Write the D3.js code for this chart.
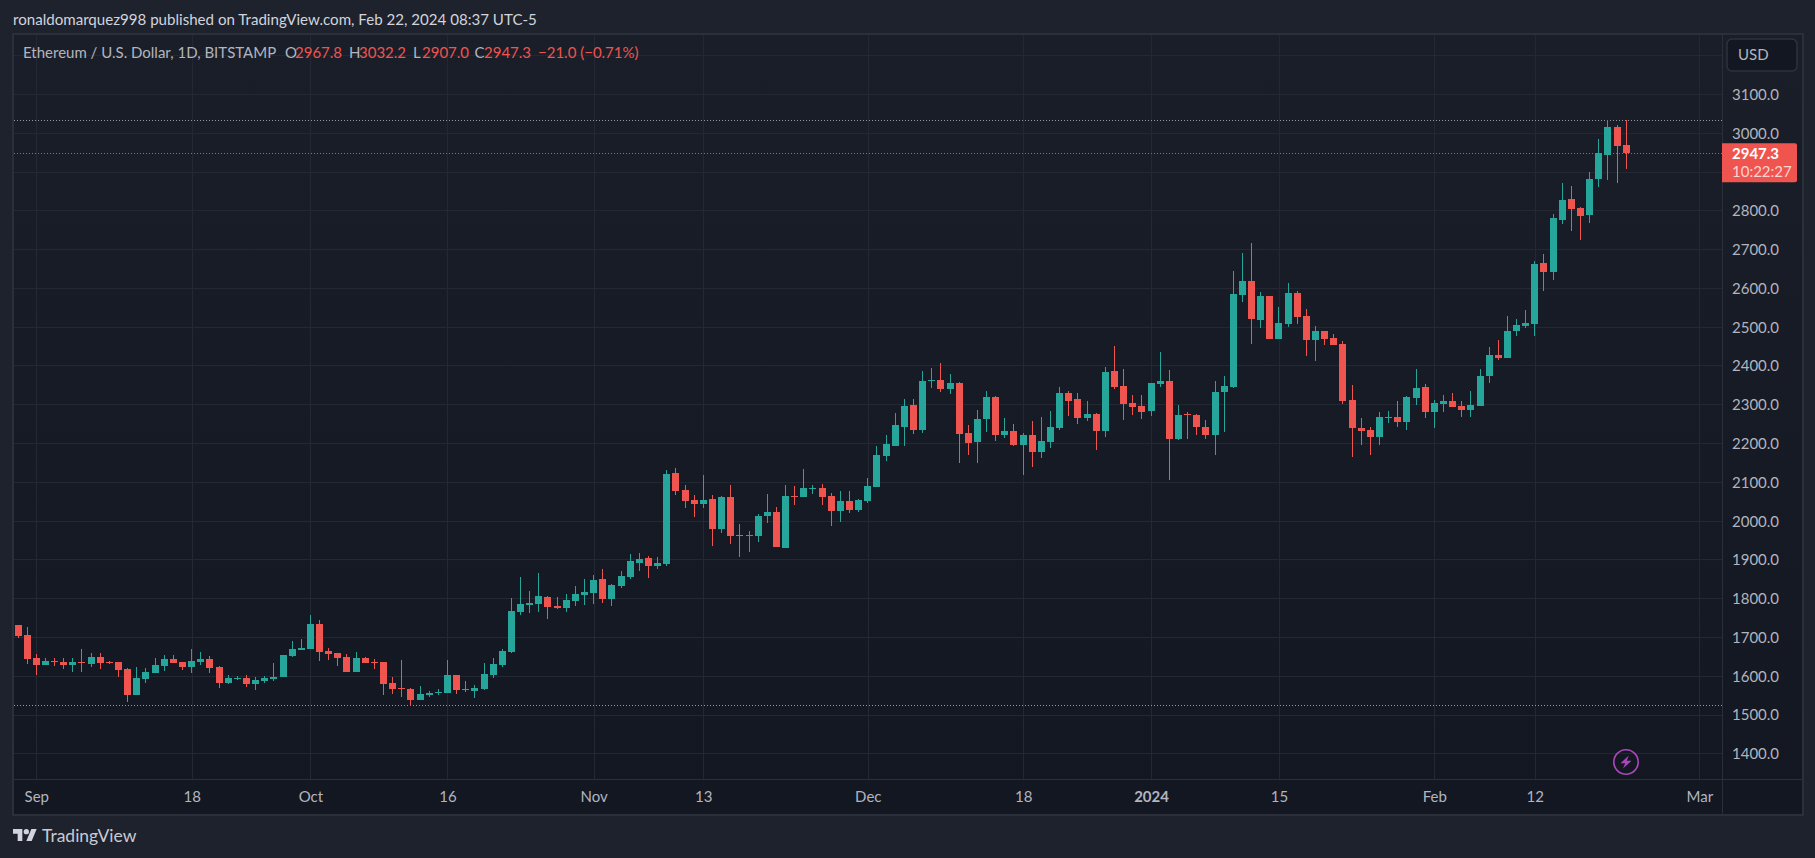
<!DOCTYPE html>
<html>
<head>
<meta charset="utf-8">
<script src="https://cdn.jsdelivr.net/npm/d3@7"></script>
<style>
  html, body { margin: 0; padding: 0; background: #1e222d; overflow: hidden; }
  text { font-family: Lato, Roboto, "Liberation Sans", sans-serif; }
</style>
</head>
<body>
<div id="chart"></div>
<script>
// ETH/USD daily, Aug 30 2023 -> Feb 22 2024, one row per month
var opens = [1731,1705,
  1646,1628,1638,1635,1628,1635,1630,1648,1635,1635,1617,1550,1591,1607,1625,1643,1635,1622,1635,1643,1622,1581,1591,1594,1578,1586,1591,1597,1651,1666,
  1669,1734,1664,1659,1648,1609,1646,1635,1635,1581,1568,1566,1537,1550,1555,1555,1603,1567,1561,1567,1603,1628,1662,1765,1783,1786,1804,1781,1775,1793,1809,
  1814,1850,1799,1832,1855,1891,1904,1884,1889,2123,2080,2054,2044,2056,1979,2062,1964,1961,1961,2013,2023,1930,2064,2062,2082,2085,2064,2026,2051,2028,
  2051,2087,2166,2192,2241,2298,2233,2360,2362,2339,2354,2226,2202,2262,2318,2221,2231,2195,2221,2177,2203,2239,2329,2313,2264,2275,2231,2385,2347,2303,2295,
  2282,2352,2360,2210,2275,2272,2242,2221,2332,2345,2582,2618,2518,2580,2469,2508,2587,2528,2466,2490,2472,2456,2312,2240,2234,2216,2265,2268,2255,2317,2345,
  2281,2301,2309,2296,2286,2296,2373,2427,2419,2488,2501,2506,2664,2640,2774,2828,2805,2787,2880,2944,3016,2967.8];
var highs = [1731,1726,
  1656,1645,1647,1645,1647,1668,1658,1658,1639,1635,1620,1622,1619,1645,1653,1653,1635,1668,1661,1651,1625,1602,1599,1602,1597,1599,1633,1654,1690,1694,
  1757,1743,1672,1659,1656,1661,1648,1643,1635,1597,1641,1568,1573,1560,1565,1641,1603,1587,1577,1634,1646,1670,1801,1855,1819,1866,1806,1804,1812,1832,1850,
  1860,1876,1837,1871,1915,1917,1909,1907,2131,2136,2093,2067,2118,2067,2064,2093,1992,1974,2018,2069,2036,2093,2090,2134,2093,2095,2072,2077,2077,2056,
  2111,2192,2220,2277,2313,2313,2385,2393,2406,2378,2357,2246,2285,2334,2321,2265,2249,2226,2257,2267,2282,2344,2334,2329,2308,2277,2396,2450,2391,2324,2324,
  2355,2434,2388,2298,2280,2275,2259,2361,2374,2644,2691,2716,2590,2580,2551,2613,2593,2546,2502,2490,2482,2464,2350,2265,2242,2281,2283,2309,2322,2392,2353,
  2312,2325,2330,2309,2335,2392,2447,2465,2527,2519,2542,2669,2687,2790,2870,2862,2808,2898,2985,3032.5,3019,3032.2];
var lows = [1698,1631,
  1602,1628,1625,1617,1609,1609,1622,1617,1631,1597,1532,1550,1581,1607,1612,1633,1615,1607,1628,1607,1568,1578,1589,1571,1563,1581,1586,1597,1648,1666,
  1669,1638,1641,1625,1609,1609,1633,1617,1550,1553,1545,1522,1537,1545,1550,1555,1554,1559,1543,1564,1595,1623,1659,1757,1763,1765,1747,1773,1765,1781,1783,
  1786,1788,1781,1827,1850,1871,1853,1876,1884,2067,2033,2010,2033,1935,1969,1940,1907,1920,1946,1995,1933,1930,2041,2062,2069,2041,1987,1997,2020,2023,
  2046,2087,2153,2192,2192,2223,2226,2342,2331,2326,2148,2169,2148,2228,2205,2213,2192,2118,2139,2162,2187,2234,2270,2249,2257,2182,2215,2339,2259,2272,2262,
  2269,2344,2104,2208,2210,2221,2210,2170,2229,2343,2564,2456,2497,2469,2469,2500,2508,2425,2412,2453,2453,2301,2165,2196,2170,2196,2252,2242,2234,2299,2265,
  2240,2281,2294,2268,2268,2296,2354,2414,2419,2476,2496,2476,2591,2620,2764,2748,2723,2767,2859,2877,2870,2907];
var closes = [1703,1643,
  1628,1638,1635,1628,1635,1633,1648,1633,1634,1615,1550,1594,1609,1628,1643,1633,1622,1638,1643,1620,1581,1594,1594,1578,1589,1594,1597,1653,1669,1672,
  1734,1661,1656,1646,1609,1646,1633,1633,1578,1566,1566,1537,1553,1555,1558,1603,1564,1564,1569,1605,1631,1665,1768,1786,1788,1806,1778,1775,1796,1812,1817,
  1848,1799,1835,1858,1897,1902,1884,1891,2121,2077,2051,2044,2054,1979,2062,1961,1961,1964,2013,2023,1933,2064,2062,2085,2085,2062,2026,2051,2028,2054,
  2090,2169,2197,2246,2295,2233,2360,2362,2339,2354,2223,2200,2262,2318,2221,2231,2195,2221,2177,2205,2241,2329,2308,2264,2275,2231,2383,2344,2300,2293,2280,
  2355,2360,2210,2272,2272,2241,2221,2332,2347,2585,2618,2520,2580,2469,2510,2587,2526,2466,2490,2469,2453,2309,2240,2232,2216,2268,2268,2255,2319,2343,2281,
  2304,2309,2294,2286,2299,2374,2427,2419,2488,2504,2509,2661,2640,2779,2826,2803,2785,2882,2947,3016,2967,2947.3];

var priceTicks = [1400,1500,1600,1700,1800,1900,2000,2100,2200,2300,2400,2500,2600,2700,2800,2900,3000,3100,3200];
// these two sit behind the USD button and the price tag in the original
var hiddenPriceLabels = [2900,3200];
var timeTicks = ["2023-09-01","2023-09-18","2023-10-01","2023-10-16","2023-11-01","2023-11-13","2023-12-01","2023-12-18","2024-01-01","2024-01-15","2024-02-01","2024-02-12","2024-03-01"];
var timeLabels = ["Sep","18","Oct","16","Nov","13","Dec","18","2024","15","Feb","12","Mar"];

var days = d3.utcDay.range(new Date("2023-08-30"), new Date("2024-02-23"));
var candles = days.map(function(d, i) {
  return { date: d, o: opens[i], h: highs[i], l: lows[i], c: closes[i] };
});
var last = candles[candles.length - 1];

var svgWidth = 1815;
var svgHeight = 858;
var left = 14, right = 1722, top_ = 35, axisTop = 779, bottom = 814, frameRight = 1802;

var upColor = "#26a69a";
var downColor = "#f0544f";
var gridColor = "#242833";
var borderColor = "#2b2f3a";
var axisText = "#b2b5be";
var fontSize = 15;

var svg = d3.select("#chart").append("svg")
  .attr("width", svgWidth)
  .attr("height", svgHeight)
  .style("display", "block");

var defs = svg.append("defs");
var grad = defs.append("linearGradient").attr("id", "paneBg").attr("x1", 0).attr("y1", 0).attr("x2", 0).attr("y2", 1);
grad.append("stop").attr("offset", "0%").attr("stop-color", "#1a1e29");
grad.append("stop").attr("offset", "100%").attr("stop-color", "#131722");
defs.append("clipPath").attr("id", "pane").append("rect")
  .attr("x", left).attr("y", top_).attr("width", right - left).attr("height", axisTop - top_);

// frame
svg.append("rect").attr("x", 0).attr("y", 0).attr("width", svgWidth).attr("height", svgHeight).attr("fill", "#1e222d");
svg.append("rect").attr("x", left).attr("y", top_).attr("width", frameRight - left).attr("height", bottom - top_).attr("fill", "url(#paneBg)");
svg.append("rect").attr("x", left - 1).attr("y", top_ - 1).attr("width", frameRight - left + 2).attr("height", bottom - top_ + 2)
  .attr("fill", "none").attr("stroke", borderColor).attr("stroke-width", 2);

var xScale = d3.scaleUtc()
  .domain([new Date("2023-09-01"), new Date("2024-03-01")])
  .range([36.3, 1699.3]);
var yScale = d3.scaleLinear()
  .domain([1400, 3100])
  .range([753.3, 94]);

var tickDates = timeTicks.map(function(s) { return new Date(s); });

// price axis, its ticks double as the horizontal grid
var yAxis = d3.axisRight(yScale)
  .tickValues(priceTicks)
  .tickSizeInner(-(right - left))
  .tickSizeOuter(0)
  .tickPadding(10)
  .tickFormat(function(d) { return hiddenPriceLabels.indexOf(d) >= 0 ? "" : d3.format(".1f")(d); });
var yG = svg.append("g").attr("transform", "translate(" + right + ",0)").call(yAxis);
yG.select(".domain").remove();
yG.selectAll("line").attr("stroke", gridColor).attr("shape-rendering", "crispEdges");
yG.selectAll("text").attr("fill", axisText).attr("font-size", fontSize).attr("font-family", "Lato").attr("dy", "0.36em");

// time axis
var xAxis = d3.axisBottom(xScale)
  .tickValues(tickDates)
  .tickSizeInner(-(axisTop - top_))
  .tickSizeOuter(0)
  .tickPadding(12)
  .tickFormat(function(d, i) { return timeLabels[i]; });
var xG = svg.append("g").attr("transform", "translate(0," + axisTop + ")").call(xAxis);
xG.select(".domain").remove();
xG.selectAll("line").attr("stroke", gridColor).attr("shape-rendering", "crispEdges");
xG.selectAll("text").attr("fill", axisText).attr("font-size", fontSize).attr("font-family", "Lato")
  .attr("font-weight", function(d, i) { return timeLabels[i] === "2024" ? "bold" : "normal"; });

// axis separators
svg.append("line").attr("x1", right + 0.5).attr("x2", right + 0.5).attr("y1", top_).attr("y2", bottom).attr("stroke", borderColor);
svg.append("line").attr("x1", left).attr("x2", frameRight).attr("y1", axisTop + 0.5).attr("y2", axisTop + 0.5).attr("stroke", borderColor);

var pane = svg.append("g").attr("clip-path", "url(#pane)");

// dotted high / low / last price lines
var dotted = [
  { v: d3.max(highs), col: "#9598a1" },
  { v: d3.min(lows), col: "#9598a1" },
  { v: last.c, col: "#f7423f" }
];
pane.selectAll(".level").data(dotted).enter().append("line")
  .attr("class", "level")
  .attr("x1", left).attr("x2", right)
  .attr("y1", function(d) { return Math.floor(yScale(d.v)) + 0.5; })
  .attr("y2", function(d) { return Math.floor(yScale(d.v)) + 0.5; })
  .attr("stroke", function(d) { return d.col; })
  .attr("stroke-dasharray", "1 2");

function colorOf(d) { return d.c >= d.o ? upColor : downColor; }
function cx(d) { return Math.floor(xScale(d.date)); }

pane.selectAll(".wick").data(candles).enter().append("rect")
  .attr("class", "wick")
  .attr("x", cx)
  .attr("width", 1)
  .attr("y", function(d) { return Math.round(yScale(d.h)); })
  .attr("height", function(d) { return Math.max(1, Math.round(yScale(d.l)) - Math.round(yScale(d.h))); })
  .attr("fill", colorOf)
  .attr("shape-rendering", "crispEdges");

pane.selectAll(".body").data(candles).enter().append("rect")
  .attr("class", "body")
  .attr("x", function(d) { return cx(d) - 3; })
  .attr("width", 7)
  .attr("y", function(d) { return Math.round(yScale(Math.max(d.o, d.c))); })
  .attr("height", function(d) { return Math.max(1, Math.round(yScale(Math.min(d.o, d.c))) - Math.round(yScale(Math.max(d.o, d.c)))); })
  .attr("fill", colorOf)
  .attr("shape-rendering", "crispEdges");

// last price tag
var tagY = yScale(last.c);
svg.append("path")
  .attr("d", "M" + right + "," + (tagY - 10) + "h73a2,2 0 0 1 2,2v35a2,2 0 0 1 -2,2h-73z")
  .attr("fill", downColor);
svg.append("text").attr("x", 1732).attr("y", tagY + 6).attr("fill", "#fff")
  .attr("font-size", fontSize).attr("font-weight", "bold").text(d3.format(".1f")(last.c));
svg.append("text").attr("x", 1732).attr("y", tagY + 24).attr("fill", "#fff").attr("fill-opacity", 0.75)
  .attr("font-size", fontSize).text("10:22:27");

// currency button
svg.append("rect").attr("x", 1727).attr("y", 39).attr("width", 70).attr("height", 32).attr("rx", 5)
  .attr("fill", "#131722").attr("stroke", "#2e323d").attr("stroke-width", 1.5);
svg.append("text").attr("x", 1738).attr("y", 60).attr("fill", axisText).attr("font-size", fontSize).text("USD");

// header line
svg.append("text").attr("x", 13).attr("y", 25).attr("fill", "#d1d4dc").attr("font-size", 15.1)
  .text("ronaldomarquez998 published on TradingView.com, Feb 22, 2024 08:37 UTC-5");

// legend row
var legendParts = [
  { x: 23, t: "Ethereum / U.S. Dollar, 1D, BITSTAMP", col: axisText },
  { x: 285, t: "O", col: axisText },
  { x: 295, t: "2967.8", col: downColor },
  { x: 349, t: "H", col: axisText },
  { x: 359, t: "3032.2", col: downColor },
  { x: 413, t: "L", col: axisText },
  { x: 422, t: "2907.0", col: downColor },
  { x: 474.5, t: "C", col: axisText },
  { x: 484, t: "2947.3", col: downColor },
  { x: 538, t: "\u221221.0 (\u22120.71%)", col: downColor }
];
svg.selectAll(".legend").data(legendParts).enter().append("text")
  .attr("class", "legend")
  .attr("x", function(d) { return d.x; })
  .attr("y", 58)
  .attr("fill", function(d) { return d.col; })
  .attr("font-size", fontSize)
  .text(function(d) { return d.t; });

// bolt badge under the last candle
var badge = svg.append("g").attr("transform", "translate(" + cx(last) + ",762)");
badge.append("circle").attr("r", 12.2).attr("fill", "none").attr("stroke", "#ab47bc").attr("stroke-width", 1.6);
badge.append("path").attr("d", "M2.8,-6.5 L-5.5,1.2 L-0.8,1.2 L-3,6.5 L5.5,-1.2 L0.8,-1.2 Z").attr("fill", "#ab47bc");

// footer logo
var logo = svg.append("g").attr("transform", "translate(13,829) scale(0.667)").attr("fill", "#d1d4dc");
logo.append("path").attr("d", "M14 18H7V7H0V0h14v18zM28 18h-8l7.5-18h8L28 18z");
logo.append("circle").attr("cx", 20).attr("cy", 4).attr("r", 4);
svg.append("text").attr("x", 42).attr("y", 842).attr("fill", "#c8cbd3").attr("font-size", 17.5).text("TradingView");
</script>
</body>
</html>
